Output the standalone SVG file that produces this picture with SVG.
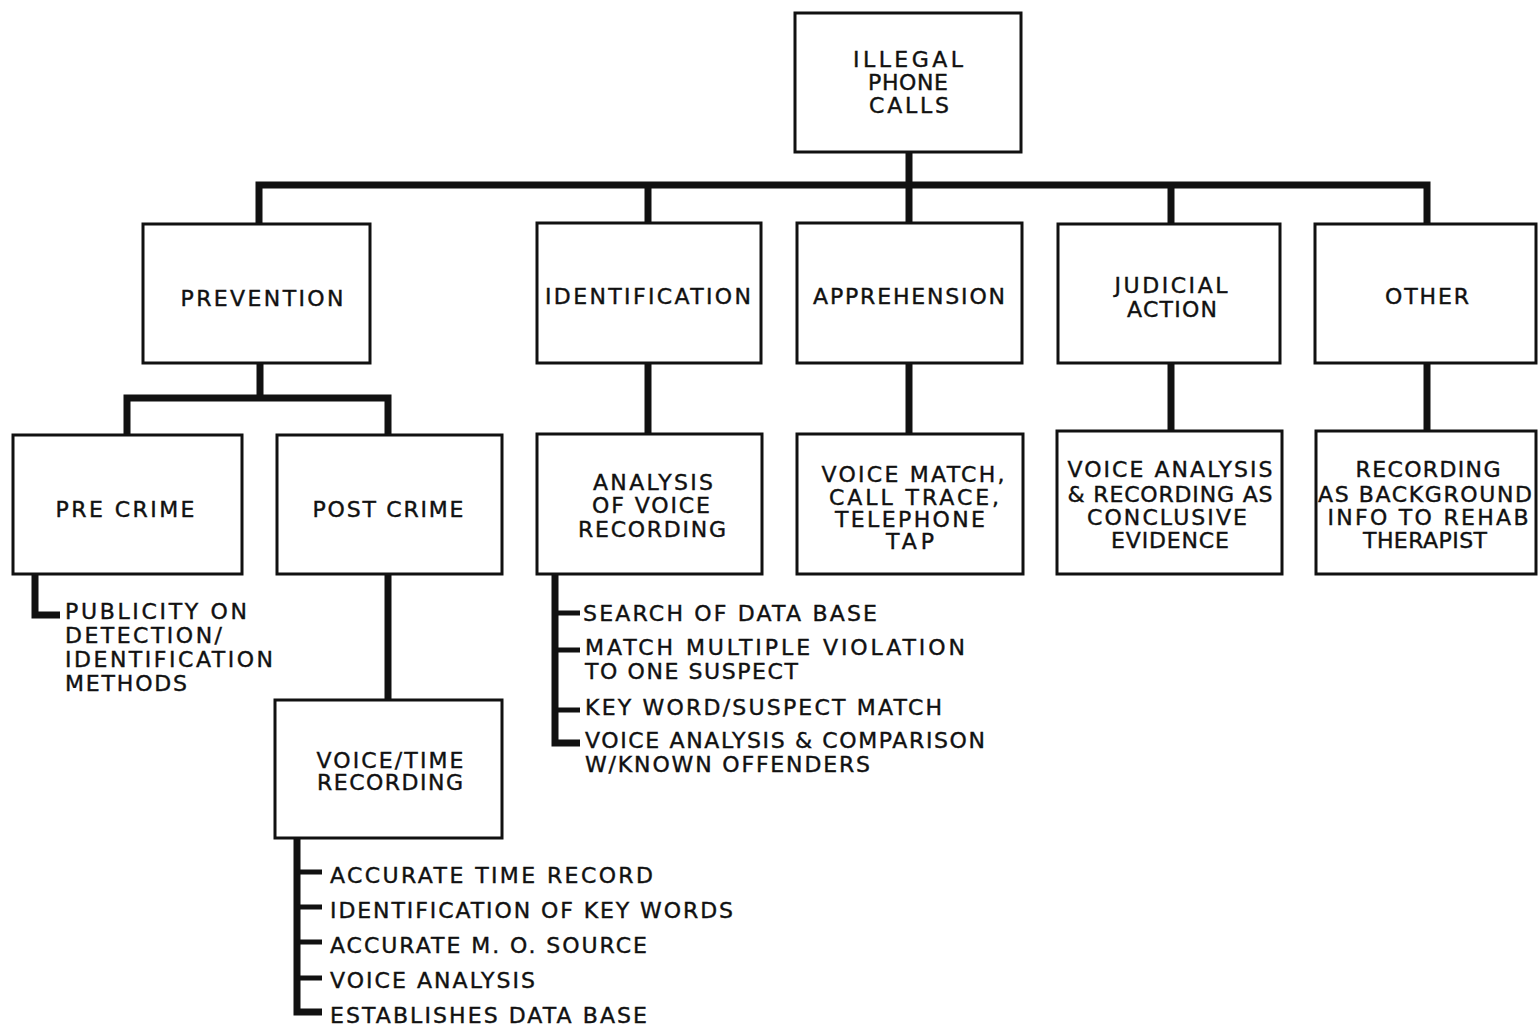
<svg xmlns="http://www.w3.org/2000/svg" width="1538" height="1031" viewBox="0 0 1538 1031">
<style>
.box{fill:#fff;stroke:#111;stroke-width:3}
.t,.l{font-family:"DejaVu Sans","Liberation Sans",Arial,sans-serif;font-size:22px;fill:#111;stroke:#111;stroke-width:0.4}
.t{text-anchor:middle}
.c{fill:none;stroke:#111;stroke-width:7;stroke-linejoin:miter;stroke-linecap:butt}
.k{fill:none;stroke:#111;stroke-width:5}
</style>
<rect width="1538" height="1031" fill="#fff"/>
<g id="connectors">
<path class="c" d="M909,152 V223"/>
<path class="c" d="M259,224 V185 H1427 V224"/>
<path class="c" d="M648,185 V223"/>
<path class="c" d="M1171,185 V224"/>
<path class="c" d="M260,363 V398"/>
<path class="c" d="M127,435 V398 H388 V435"/>
<path class="c" d="M388,574 V700"/>
<path class="c" d="M648,363 V434"/>
<path class="c" d="M909,363 V434"/>
<path class="c" d="M1171,363 V431"/>
<path class="c" d="M1427,363 V431"/>
<path class="c" d="M35,574 V615 H60"/>
<path class="c" d="M555,574 V743 H580"/>
<path class="k" d="M555,613 H580 M555,650 H580 M555,710 H580"/>
<path class="c" d="M297,838 V1012 H322"/>
<path class="k" d="M297,872 H322 M297,907 H322 M297,942 H322 M297,978 H322"/>
</g>
<g id="illegal-phone-calls">
<rect class="box" x="795" y="13" width="226" height="139"/>
<text class="t" x="908" y="67" textLength="110" lengthAdjust="spacing">ILLEGAL</text>
<text class="t" x="908" y="90" textLength="80" lengthAdjust="spacing">PHONE</text>
<text class="t" x="909" y="113" textLength="80" lengthAdjust="spacing">CALLS</text>
</g>
<g id="prevention">
<rect class="box" x="143" y="224" width="227" height="139"/>
<text class="t" x="262" y="306" textLength="163" lengthAdjust="spacing">PREVENTION</text>
</g>
<g id="identification">
<rect class="box" x="537" y="223" width="224" height="140"/>
<text class="t" x="648" y="304" textLength="206" lengthAdjust="spacing">IDENTIFICATION</text>
</g>
<g id="apprehension">
<rect class="box" x="797" y="223" width="225" height="140"/>
<text class="t" x="909" y="304" textLength="192" lengthAdjust="spacing">APPREHENSION</text>
</g>
<g id="judicial-action">
<rect class="box" x="1058" y="224" width="222" height="139"/>
<text class="t" x="1171" y="293" textLength="113" lengthAdjust="spacing">JUDICIAL</text>
<text class="t" x="1172" y="317" textLength="90" lengthAdjust="spacing">ACTION</text>
</g>
<g id="other">
<rect class="box" x="1315" y="224" width="221" height="139"/>
<text class="t" x="1427" y="304" textLength="84" lengthAdjust="spacing">OTHER</text>
</g>
<g id="pre-crime">
<rect class="box" x="13" y="435" width="229" height="139"/>
<text class="t" x="125" y="517" textLength="139" lengthAdjust="spacing">PRE CRIME</text>
</g>
<g id="post-crime">
<rect class="box" x="277" y="435" width="225" height="139"/>
<text class="t" x="388" y="517" textLength="151" lengthAdjust="spacing">POST CRIME</text>
</g>
<g id="publicity">
<text class="l" x="65" y="619" textLength="182" lengthAdjust="spacing">PUBLICITY ON</text>
<text class="l" x="65" y="643" textLength="157" lengthAdjust="spacing">DETECTION/</text>
<text class="l" x="65" y="667" textLength="208" lengthAdjust="spacing">IDENTIFICATION</text>
<text class="l" x="65" y="691" textLength="122" lengthAdjust="spacing">METHODS</text>
</g>
<g id="voice-time-recording">
<rect class="box" x="275" y="700" width="227" height="138"/>
<text class="t" x="390" y="768" textLength="147" lengthAdjust="spacing">VOICE/TIME</text>
<text class="t" x="390" y="790" textLength="146" lengthAdjust="spacing">RECORDING</text>
</g>
<g id="voice-time-list">
<text class="l" x="330" y="883" textLength="323" lengthAdjust="spacing">ACCURATE TIME RECORD</text>
<text class="l" x="330" y="918" textLength="403" lengthAdjust="spacing">IDENTIFICATION OF KEY WORDS</text>
<text class="l" x="330" y="953" textLength="317" lengthAdjust="spacing">ACCURATE M. O.  SOURCE</text>
<text class="l" x="330" y="988" textLength="205" lengthAdjust="spacing">VOICE ANALYSIS</text>
<text class="l" x="330" y="1023" textLength="317" lengthAdjust="spacing">ESTABLISHES DATA BASE</text>
</g>
<g id="analysis-of-voice-recording">
<rect class="box" x="537" y="434" width="225" height="140"/>
<text class="t" x="653" y="490" textLength="120" lengthAdjust="spacing">ANALYSIS</text>
<text class="t" x="651" y="513" textLength="118" lengthAdjust="spacing">OF VOICE</text>
<text class="t" x="652" y="537" textLength="148" lengthAdjust="spacing">RECORDING</text>
</g>
<g id="analysis-list">
<text class="l" x="583" y="621" textLength="294" lengthAdjust="spacing">SEARCH OF DATA BASE</text>
<text class="l" x="585" y="655" textLength="380" lengthAdjust="spacing">MATCH MULTIPLE VIOLATION</text>
<text class="l" x="585" y="679" textLength="213" lengthAdjust="spacing">TO ONE SUSPECT</text>
<text class="l" x="585" y="715" textLength="357" lengthAdjust="spacing">KEY WORD/SUSPECT MATCH</text>
<text class="l" x="585" y="748" textLength="400" lengthAdjust="spacing">VOICE ANALYSIS &amp; COMPARISON</text>
<text class="l" x="585" y="772" textLength="285" lengthAdjust="spacing">W/KNOWN OFFENDERS</text>
</g>
<g id="voice-match">
<rect class="box" x="797" y="434" width="226" height="140"/>
<text class="t" x="913" y="482" textLength="183" lengthAdjust="spacing">VOICE MATCH,</text>
<text class="t" x="914" y="505" textLength="170" lengthAdjust="spacing">CALL TRACE,</text>
<text class="t" x="910" y="527" textLength="150" lengthAdjust="spacing">TELEPHONE</text>
<text class="t" x="910" y="549" textLength="48" lengthAdjust="spacing">TAP</text>
</g>
<g id="voice-analysis-evidence">
<rect class="box" x="1057" y="431" width="225" height="143"/>
<text class="t" x="1170" y="477" textLength="205" lengthAdjust="spacing">VOICE ANALYSIS</text>
<text class="t" x="1170" y="502" textLength="205" lengthAdjust="spacing">&amp; RECORDING AS</text>
<text class="t" x="1167" y="525" textLength="160" lengthAdjust="spacing">CONCLUSIVE</text>
<text class="t" x="1170" y="548" textLength="118" lengthAdjust="spacing">EVIDENCE</text>
</g>
<g id="recording-background">
<rect class="box" x="1316" y="431" width="220" height="143"/>
<text class="t" x="1428" y="477" textLength="145" lengthAdjust="spacing">RECORDING</text>
<text class="t" x="1425" y="502" textLength="214" lengthAdjust="spacing">AS BACKGROUND</text>
<text class="t" x="1428" y="525" textLength="201" lengthAdjust="spacing">INFO TO REHAB</text>
<text class="t" x="1425" y="548" textLength="124" lengthAdjust="spacing">THERAPIST</text>
</g>
</svg>
